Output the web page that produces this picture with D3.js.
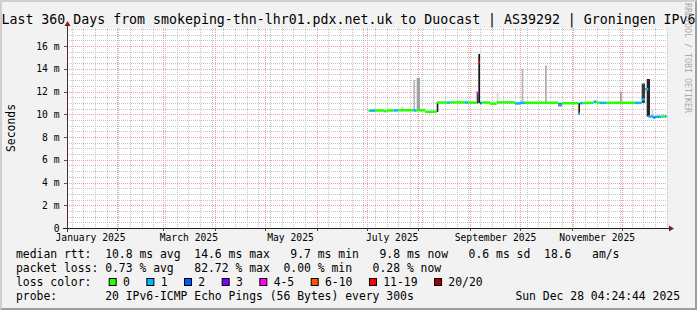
<!DOCTYPE html>
<html>
<head>
<meta charset="utf-8">
<script src="https://cdn.jsdelivr.net/npm/d3@7"></script>
<style>
body { margin: 0; background: #f2f2f2; }
svg { display: block; }
text { font-family: "DejaVu Sans Mono", monospace; fill: #000; white-space: pre; }
</style>
</head>
<body>
<svg width="697" height="310"></svg>
<script>
var title = "Last 360 Days from smokeping-thn-lhr01.pdx.net.uk to Duocast | AS39292 | Groningen IPv6";

// x axis labels sit in the middle of every second month
var monthLabels = ["January 2025", "March 2025", "May 2025", "July 2025", "September 2025", "November 2025"];
var monthLabelDates = ["2025-01-16", "2025-03-16", "2025-05-16", "2025-07-16", "2025-09-16", "2025-11-16"];
var yTicks = [0, 2, 4, 6, 8, 10, 12, 14, 16];

// median rtt (ms) steps, with the number of lost pings (of 20)
var rttDate = ["2025-07-02", "2025-07-03", "2025-07-06", "2025-07-11", "2025-07-13", "2025-07-17", "2025-07-20",
    "2025-07-29", "2025-07-31", "2025-08-05", "2025-08-12", "2025-08-18", "2025-08-20", "2025-08-29", "2025-08-31",
    "2025-09-05", "2025-09-06", "2025-09-07", "2025-09-08", "2025-09-13", "2025-09-17", "2025-09-28", "2025-10-01",
    "2025-10-04", "2025-10-24", "2025-10-26", "2025-11-05", "2025-11-06", "2025-11-08", "2025-11-14", "2025-11-16",
    "2025-11-18", "2025-11-22", "2025-12-09", "2025-12-13", "2025-12-15", "2025-12-17", "2025-12-20", "2025-12-21",
    "2025-12-25", "2025-12-27"];
var rttMs = [10.32, 10.32, 10.33, 10.27, 10.33, 10.34, 10.35,
    10.33, 10.35, 10.22, 11.03, 11.02, 11.04, 11.03, 11.02,
    11.9, 14.6, 11.0, 11.03, 10.93, 11.04, 10.95, 11.0,
    11.02, 10.85, 10.97, 10.05, 10.98, 11.0, 11.1, 11.02,
    11.0, 11.01, 11.0, 11.3, 12.2, 9.8, 9.72, 9.78,
    9.8, 9.8];
var rttLoss = [0, 1, 0, 0, 0, 1, 0,
    1, 0, 0, 0, 1, 0, 1, 0,
    4, 12, 2, 0, 0, 0, 1, 1,
    0, 1, 0, 1, 1, 0, 1, 0,
    1, 0, 1, 1, 1, 1, 2, 1,
    0, 1];

// smoke: spread of the pings
var smokeStart = ["2025-07-11", "2025-07-22", "2025-07-29", "2025-07-31", "2025-08-12", "2025-09-05", "2025-09-06",
    "2025-09-17", "2025-10-02", "2025-10-16", "2025-10-24", "2025-11-05", "2025-11-30", "2025-12-13", "2025-12-16", "2025-12-19"];
var smokeEnd = ["2025-07-12", "2025-07-23", "2025-07-30", "2025-08-02", "2025-08-13", "2025-09-06", "2025-09-07",
    "2025-09-18", "2025-10-03", "2025-10-17", "2025-10-26", "2025-11-06", "2025-12-01", "2025-12-15", "2025-12-18", "2025-12-20"];
var smokeLow = [10.22, 10.35, 10.35, 10.35, 10.2, 10.95, 11.0, 11.02, 11.02, 11.02, 10.7, 10.0, 11.0, 11.0, 9.8, 9.8];
var smokeHigh = [10.33, 10.68, 13.0, 13.2, 11.05, 11.95, 15.3, 11.9, 14.0, 14.3, 11.0, 11.0, 12.0, 12.7, 13.1, 10.4];
var smokeShade = ["#303030", "#d4d4d4", "#b8b8b8", "#a0a0a0", "#202020", "#3a3a3a", "#141414",
    "#d4d4d4", "#b4b4b4", "#aaaaaa", "#2a2a2a", "#1e1e1e", "#b89494", "#3a3a3a", "#262626", "#d0d0d0"];

var lossLabels = ["0", "1", "2", "3", "4-5", "6-10", "11-19", "20/20"];
var lossColors = ["#26ff00", "#00b8ff", "#0059ff", "#7e00ff", "#ff00ff", "#ff5500", "#ff0000", "#a10000"];
var rttStats = [10.8, 14.6, 9.7, 9.8, 0.6];
var amPerSec = 18.6;
var lossStats = [0.73, 82.72, 0.00, 0.28];
var probeText = "20 IPv6-ICMP Echo Pings (56 Bytes) every 300s";
var stamp = "Sun Dec 28 04:24:44 2025";

var W = 697, H = 310;
var plotLeft = 67, plotTop = 28, plotW = 600, plotH = 200;
var plotBottom = plotTop + plotH;
var cw = 6.86; // legend char width

var parseDate = d3.utcParse("%Y-%m-%d");
var endTime = d3.utcParse("%Y-%m-%d %H:%M:%S")("2025-12-28 04:24:44");
var startTime = d3.utcDay.offset(endTime, -360);

var x = d3.scaleUtc().domain([startTime, endTime]).range([plotLeft, plotLeft + plotW]);
var y = d3.scaleLinear().domain([0, plotH / 11.375]).range([plotBottom, plotTop]);
var lossColor = d3.scaleThreshold().domain([1, 2, 3, 4, 6, 11, 20]).range(lossColors);

var svg = d3.select("svg");

// background and 3d frame
svg.append("rect").attr("width", W).attr("height", H).attr("fill", "#f2f2f2");
svg.append("path")
    .attr("d", "M0,0 L0," + H + " L2," + (H - 2) + " L2,2 L" + (W - 2) + ",2 L" + W + ",0 Z")
    .attr("fill", "#cfcfcf");
svg.append("path")
    .attr("d", "M0," + H + " L" + W + "," + H + " L" + W + ",0 L" + (W - 2) + ",2 L" + (W - 2) + "," + (H - 2) + " L2," + (H - 2) + " Z")
    .attr("fill", "#9e9e9e");

svg.append("rect")
    .attr("x", plotLeft).attr("y", plotTop)
    .attr("width", plotW).attr("height", plotH)
    .attr("fill", "#ffffff");

var grid = svg.append("g").attr("shape-rendering", "crispEdges");

// minor grid
var minorY = d3.range(0.5, y.domain()[1], 0.5).filter(function (v) { return v % 2 != 0; });
grid.selectAll("line.hmin")
    .data(minorY)
    .enter().append("line")
    .attr("x1", plotLeft).attr("x2", plotLeft + plotW)
    .attr("y1", function (d) { return Math.round(y(d)) + 0.5; })
    .attr("y2", function (d) { return Math.round(y(d)) + 0.5; })
    .attr("stroke", "#c4c4c4")
    .attr("stroke-dasharray", "1,1");

var months = d3.utcMonth.range(startTime, endTime);
var weeks = d3.utcSunday.range(startTime, endTime);

grid.selectAll("line.vmin")
    .data(weeks)
    .enter().append("line")
    .attr("x1", function (d) { return Math.round(x(d)) + 0.5; })
    .attr("x2", function (d) { return Math.round(x(d)) + 0.5; })
    .attr("y1", plotTop).attr("y2", plotBottom)
    .attr("stroke", "#c4c4c4")
    .attr("stroke-dasharray", "1,1");

// major grid
grid.selectAll("line.hmaj")
    .data(yTicks.slice(1))
    .enter().append("line")
    .attr("x1", plotLeft).attr("x2", plotLeft + plotW)
    .attr("y1", function (d) { return Math.round(y(d)) + 0.5; })
    .attr("y2", function (d) { return Math.round(y(d)) + 0.5; })
    .attr("stroke", "#f0a0a0")
    .attr("stroke-dasharray", "1,1");

grid.selectAll("line.vmaj")
    .data(months)
    .enter().append("line")
    .attr("x1", function (d) { return Math.round(x(d)) + 0.5; })
    .attr("x2", function (d) { return Math.round(x(d)) + 0.5; })
    .attr("y1", plotTop).attr("y2", plotBottom)
    .attr("stroke", "#f0a0a0")
    .attr("stroke-dasharray", "1,1");

// ticks
grid.selectAll("line.xt")
    .data(months)
    .enter().append("line")
    .attr("x1", function (d) { return Math.round(x(d)) + 0.5; })
    .attr("x2", function (d) { return Math.round(x(d)) + 0.5; })
    .attr("y1", plotBottom).attr("y2", plotBottom + 3)
    .attr("stroke", "#555");

grid.selectAll("line.yt")
    .data(yTicks.slice(1))
    .enter().append("line")
    .attr("x1", plotLeft - 3).attr("x2", plotLeft)
    .attr("y1", function (d) { return Math.round(y(d)) + 0.5; })
    .attr("y2", function (d) { return Math.round(y(d)) + 0.5; })
    .attr("stroke", "#555");

// smoke
var smoke = smokeStart.map(function (d, i) {
    return { start: parseDate(d), end: parseDate(smokeEnd[i]), lo: smokeLow[i], hi: smokeHigh[i], shade: smokeShade[i] };
});
svg.append("g")
    .selectAll("rect")
    .data(smoke)
    .enter().append("rect")
    .attr("x", function (d) { return x(d.start); })
    .attr("width", function (d) { return x(d.end) - x(d.start); })
    .attr("y", function (d) { return y(d.hi); })
    .attr("height", function (d) { return y(d.lo) - y(d.hi); })
    .attr("fill", function (d) { return d.shade; });

// median rtt, coloured by loss
var rtt = rttDate.map(function (d, i) {
    return {
        start: parseDate(d),
        end: i + 1 < rttDate.length ? parseDate(rttDate[i + 1]) : parseDate("2025-12-28"),
        ms: rttMs[i],
        loss: rttLoss[i]
    };
});
svg.append("g")
    .selectAll("line")
    .data(rtt)
    .enter().append("line")
    .attr("x1", function (d) { return x(d.start); })
    .attr("x2", function (d) { return x(d.end); })
    .attr("y1", function (d) { return y(d.ms); })
    .attr("y2", function (d) { return y(d.ms); })
    .attr("stroke", function (d) { return lossColor(d.loss); })
    .attr("stroke-width", 2.5);

// axes lines and arrows
svg.append("line")
    .attr("x1", plotLeft - 4).attr("x2", plotLeft + plotW + 4)
    .attr("y1", plotBottom + 0.5).attr("y2", plotBottom + 0.5)
    .attr("stroke", "#1f1f1f");
svg.append("line")
    .attr("x1", plotLeft + 0.5).attr("x2", plotLeft + 0.5)
    .attr("y1", plotBottom + 4).attr("y2", plotTop - 4)
    .attr("stroke", "#4a2a2a");
svg.append("path")
    .attr("d", "M" + (plotLeft + plotW + 2) + "," + (plotBottom + 0.5 - 3) + " L" + (plotLeft + plotW + 2) + "," + (plotBottom + 0.5 + 3) +
        " L" + (plotLeft + plotW + 7) + "," + (plotBottom + 0.5) + " Z")
    .attr("fill", "#801f1f");
svg.append("path")
    .attr("d", "M" + (plotLeft + 0.5 - 3) + "," + (plotTop - 2) + " L" + (plotLeft + 0.5 + 3) + "," + (plotTop - 2) +
        " L" + (plotLeft + 0.5) + "," + (plotTop - 7) + " Z")
    .attr("fill", "#801f1f");

// axis labels
var yAxis = d3.axisLeft(y)
    .tickValues(yTicks)
    .tickSize(0)
    .tickPadding(7.5)
    .tickFormat(function (d) { return d == 0 ? "0" : d + " m"; });
var gy = svg.append("g").attr("transform", "translate(" + plotLeft + ",0)").call(yAxis);
gy.select(".domain").remove();
gy.selectAll("text")
    .attr("font-family", "DejaVu Sans Mono, monospace")
    .attr("font-size", "9.7px")
    .attr("fill", "#000");

var xAxis = d3.axisBottom(x)
    .tickValues(monthLabelDates.map(parseDate))
    .tickSize(0)
    .tickPadding(5.7)
    .tickFormat(function (d, i) { return monthLabels[i]; });
var gx = svg.append("g").attr("transform", "translate(0," + plotBottom + ")").call(xAxis);
gx.select(".domain").remove();
gx.selectAll("text")
    .attr("font-family", "DejaVu Sans Mono, monospace")
    .attr("font-size", "9.7px")
    .attr("fill", "#000");

// title, y label, watermark
svg.append("text")
    .attr("x", W / 2).attr("y", 24)
    .attr("text-anchor", "middle")
    .attr("font-size", "13.25px")
    .text(title);

svg.append("text")
    .attr("transform", "translate(14.5," + (plotTop + plotH / 2) + ") rotate(-90)")
    .attr("text-anchor", "middle")
    .attr("font-size", "11.4px")
    .text("Seconds");

svg.append("text")
    .attr("transform", "translate(684.5,3) rotate(90)")
    .attr("font-size", "8.3px")
    .style("fill", "#ababab")
    .text("RRDTOOL / TOBI OETIKER");

// legend
var f1 = d3.format("4.1f");
var f2 = d3.format(".2f");
var line1 = "median rtt:  " + f1(rttStats[0]) + " ms avg  " + f1(rttStats[1]) + " ms max  " + f1(rttStats[2]) +
    " ms min  " + f1(rttStats[3]) + " ms now  " + f1(rttStats[4]) + " ms sd  " + f1(amPerSec) + "   am/s";
var line2 = "packet loss: " + f2(lossStats[0]) + " % avg   " + f2(lossStats[1]) + " % max  " + f2(lossStats[2]) +
    " % min   " + f2(lossStats[3]) + " % now";
var line4 = "probe:       " + probeText;

var legend = svg.append("g").attr("font-size", "11.4px");
legend.append("text").attr("x", 16).attr("y", 258).text(line1);
legend.append("text").attr("x", 16).attr("y", 272).text(line2);
legend.append("text").attr("x", 16).attr("y", 286).text("loss color:");
legend.append("text").attr("x", 16).attr("y", 300).text(line4);
legend.append("text").attr("x", 680).attr("y", 300).attr("text-anchor", "end").text(stamp);

var bx = 108.7;
lossLabels.forEach(function (lab, i) {
    legend.append("rect")
        .attr("x", bx + 0.5).attr("y", 278.5)
        .attr("width", 7).attr("height", 7)
        .attr("fill", lossColors[i])
        .attr("stroke", "#000");
    legend.append("text").attr("x", bx + 14.3).attr("y", 286).text(lab);
    bx = bx + 14.3 + lab.length * cw + 16.5;
});
</script>
</body>
</html>
